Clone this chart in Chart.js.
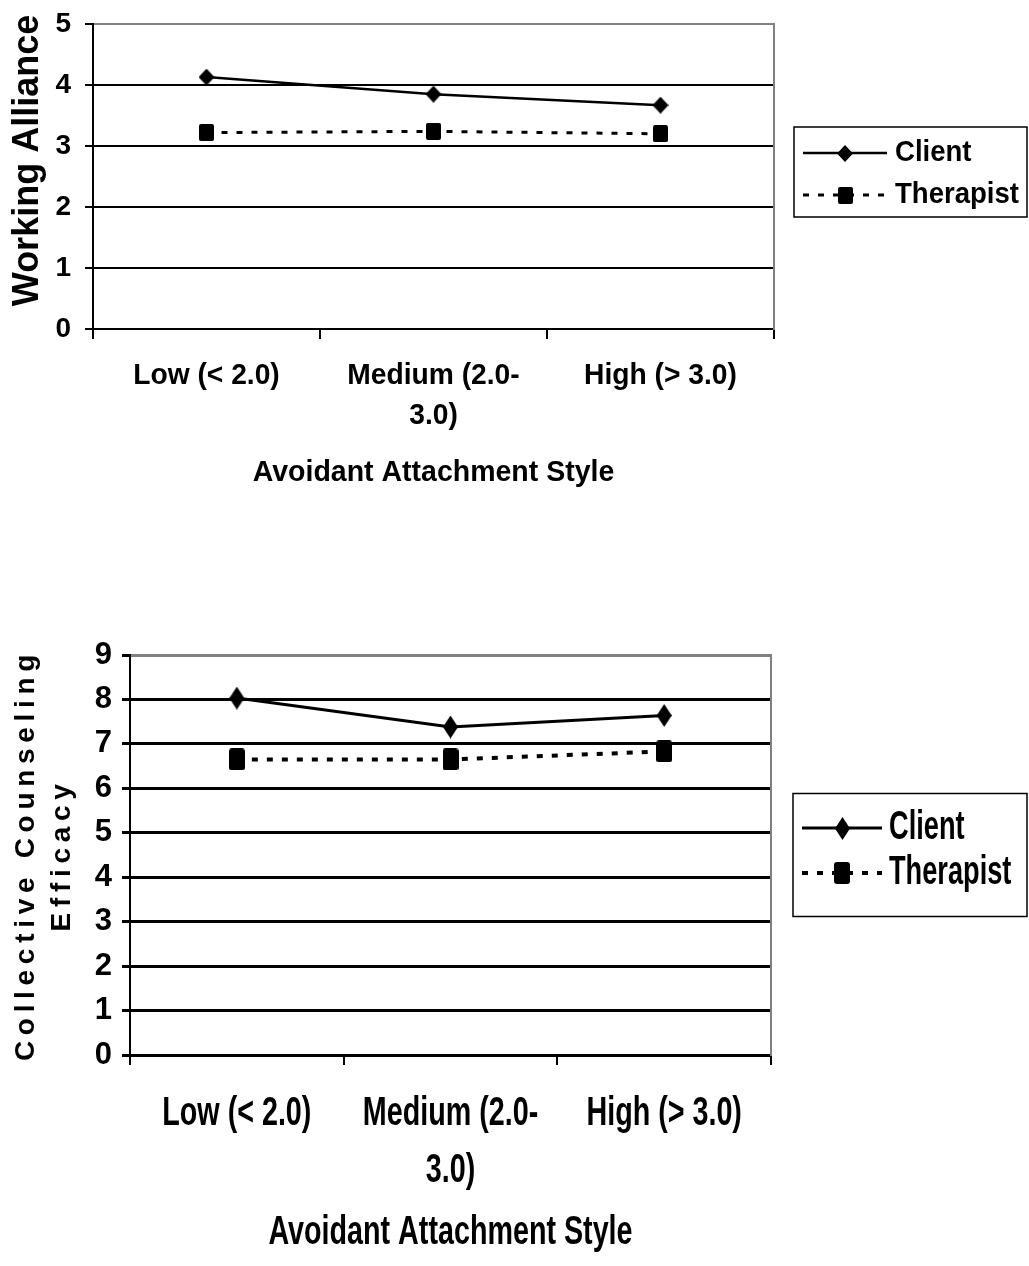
<!DOCTYPE html>
<html>
<head>
<meta charset="utf-8">
<script src="https://cdn.jsdelivr.net/npm/chart.js@4.4.1/dist/chart.umd.min.js"></script>
<style>
  html, body { margin: 0; padding: 0; background: #fff; }
  body { width: 1029px; height: 1266px; position: relative; overflow: hidden; }
  .wrap { position: absolute; left: 0; width: 1029px; }
  #wrapA { top: 0; height: 510px; }
  #wrapB { top: 600px; height: 666px; }
  canvas { display: block; }
</style>
</head>
<body>
<div class="wrap" id="wrapA"><canvas id="chartA"></canvas></div>
<div class="wrap" id="wrapB"><canvas id="chartB"></canvas></div>
<script>
// data
const categories = ['Low (< 2.0)', ['Medium (2.0-', '3.0)'], 'High (> 3.0)'];
const seriesNames = ['Client', 'Therapist'];
const allianceClient = [4.13, 3.85, 3.67];
const allianceTherapist = [3.22, 3.24, 3.20];
const efficacyClient = [8.03, 7.38, 7.64];
const efficacyTherapist = [6.65, 6.65, 6.83];
const allianceTicks = [0, 1, 2, 3, 4, 5];
const efficacyTicks = [0, 1, 2, 3, 4, 5, 6, 7, 8, 9];

const ARIAL = "'Liberation Sans', Arial, sans-serif";
const proto = CanvasRenderingContext2D.prototype;

function diamond(w, h) {
  const c = document.createElement('canvas');
  c.width = w; c.height = h;
  const g = c.getContext('2d');
  g.fillStyle = '#000';
  g.beginPath();
  g.moveTo(w / 2, 0); g.lineTo(w, h / 2); g.lineTo(w / 2, h); g.lineTo(0, h / 2);
  g.closePath();
  g.fill();
  return c;
}

function block(w, h, r) {
  const c = document.createElement('canvas');
  c.width = w; c.height = h;
  const g = c.getContext('2d');
  g.fillStyle = '#000';
  g.beginPath();
  g.roundRect(0, 0, w, h, r);
  g.fill();
  return c;
}

// fillText squeezed horizontally (no narrow font installed)
function squeezedText(ctx, text, x, y, sx) {
  ctx.save();
  ctx.translate(x, y);
  ctx.scale(sx, 1);
  proto.fillText.call(ctx, text, 0, 0);
  ctx.restore();
}

function wrapDraw(scale, name, sx, spacing, shiftY) {
  const orig = scale[name];
  scale[name] = function () {
    const c = this.ctx;
    c.save();
    if (spacing) c.letterSpacing = spacing;
    if (shiftY) c.translate(0, shiftY);
    if (sx && sx !== 1) {
      c.fillText = function (t, px, py) { squeezedText(this, t, px, py, sx); };
    }
    try { orig.apply(this, arguments); } finally { delete c.fillText; c.restore(); }
  };
}

const textTweak = {
  id: 'textTweak',
  beforeDraw(chart, args, opts) {
    const { x, y } = chart.scales;
    if (x._tweaked) return;
    wrapDraw(x, 'drawLabels', opts.xLabels, null, 0);
    wrapDraw(x, 'drawTitle', opts.xTitle, null, 0);
    wrapDraw(y, 'drawTitle', 1, opts.ySpacing, opts.yShift);
    x._tweaked = true;
  }
};

// legend drawn as a bordered box to the right of the plot
const boxLegend = {
  id: 'boxLegend',
  afterDraw(chart, args, opts) {
    const { ctx, chartArea } = chart;
    const n = chart.data.datasets.length;
    const h = opts.padTop + opts.padBottom + opts.rowHeight * n;
    const left = chartArea.right + opts.gap;
    const right = chart.width - 2;
    const top = (chartArea.top + chartArea.bottom) / 2 - h / 2 + opts.shift;
    ctx.save();
    ctx.strokeStyle = '#000';
    ctx.lineWidth = 1.5;
    ctx.strokeRect(left, top, right - left, h);
    chart.data.datasets.forEach((ds, i) => {
      const y = top + opts.padTop + opts.rowHeight * (i + 0.5);
      const x0 = left + 9, x1 = x0 + opts.sample;
      ctx.beginPath();
      ctx.setLineDash(ds.borderDash || []);
      ctx.lineWidth = ds.borderWidth;
      ctx.strokeStyle = ds.borderColor;
      ctx.moveTo(x0, y); ctx.lineTo(x1, y);
      ctx.stroke();
      ctx.setLineDash([]);
      const m = ds.pointStyle;
      ctx.drawImage(m, Math.round((x0 + x1) / 2 - m.width / 2), Math.round(y - m.height / 2));
      ctx.font = opts.font;
      ctx.fillStyle = '#000';
      ctx.textAlign = 'left';
      ctx.textBaseline = 'middle';
      squeezedText(ctx, ds.label, x1 + opts.textGap, y, opts.sx);
    });
    ctx.restore();
  }
};

function makeChart(id, cfg) {
  const max = cfg.ticks[cfg.ticks.length - 1];
  return new Chart(document.getElementById(id), {
    type: 'line',
    data: {
      labels: categories,
      datasets: [
        {
          label: seriesNames[0],
          data: cfg.client,
          borderColor: '#000',
          backgroundColor: '#000',
          borderWidth: cfg.clientWidth,
          tension: 0,
          pointStyle: cfg.clientMarker,
          pointRadius: 6
        },
        {
          label: seriesNames[1],
          data: cfg.therapist,
          borderColor: '#000',
          backgroundColor: '#000',
          borderWidth: cfg.therapistWidth,
          borderDash: [6, 9],
          tension: 0,
          pointStyle: cfg.therapistMarker,
          pointRadius: 6
        }
      ]
    },
    options: {
      responsive: true,
      maintainAspectRatio: false,
      animation: false,
      layout: { padding: { top: cfg.padTop, right: cfg.padRight, left: 0, bottom: 0 } },
      plugins: {
        legend: { display: false },
        tooltip: { enabled: false },
        boxLegend: cfg.legend,
        textTweak: { xLabels: cfg.xSx, xTitle: cfg.xTitleSx, ySpacing: cfg.titleSpacing, yShift: cfg.yTitleShift }
      },
      scales: {
        x: {
          offset: true,
          grid: { offset: true, drawOnChartArea: false, drawTicks: true, tickLength: 10, color: '#000', lineWidth: 2 },
          border: { color: '#000', width: 2 },
          ticks: {
            color: '#000', autoSkip: false, maxRotation: 0, minRotation: 0,
            padding: cfg.xPad,
            font: { family: ARIAL, size: cfg.xSize, weight: 'bold', lineHeight: cfg.xLine }
          },
          title: {
            display: true, text: 'Avoidant Attachment Style', color: '#000',
            font: { family: ARIAL, size: cfg.xTitleSize, weight: 'bold' },
            padding: { top: 0, bottom: cfg.xTitlePad }
          },
          afterFit(s) { s.height = cfg.xHeight; }
        },
        y: {
          min: cfg.ticks[0],
          max: max,
          afterBuildTicks(s) { s.ticks = cfg.ticks.map(v => ({ value: v })); },
          grid: {
            color: c => (c.tick && c.tick.value === max ? '#808080' : '#000'),
            tickColor: '#000',
            lineWidth: cfg.gridWidth,
            tickLength: 8
          },
          border: { color: '#000', width: 2 },
          ticks: {
            color: '#000', padding: cfg.yPad,
            font: { family: ARIAL, size: cfg.ySize, weight: 'bold', lineHeight: 0.5 }
          },
          title: {
            display: true, text: cfg.yTitle, color: '#000',
            font: { family: ARIAL, size: cfg.yTitleSize, weight: 'bold', lineHeight: cfg.yTitleLine },
            padding: { top: cfg.yTitlePad, bottom: 0 }
          },
          afterFit(s) { s.width = cfg.yWidth; }
        },
        y2: {
          position: 'right', min: 0, max: 1,
          grid: { drawOnChartArea: false, drawTicks: false },
          ticks: { display: false },
          border: { color: '#808080', width: 2 },
          afterFit(s) { s.width = 0; }
        }
      }
    },
    plugins: [boxLegend, textTweak]
  });
}

makeChart('chartA', {
  client: allianceClient,
  therapist: allianceTherapist,
  ticks: allianceTicks,
  clientMarker: diamond(16, 17),
  therapistMarker: block(15, 17, 2),
  clientWidth: 2.5,
  therapistWidth: 3,
  gridWidth: 2,
  padTop: 24, padRight: 255,
  xSize: 30, xSx: 0.94, xLine: 1.33, xPad: 17,
  xTitleSize: 30, xTitleSx: 0.95, xTitlePad: 19, xHeight: 181,
  ySize: 28, yPad: 14, yWidth: 93,
  yTitle: 'Working Alliance', yTitleSize: 36, yTitleLine: 1.2, yTitlePad: 6.5, yTitleShift: -16,
  titleSpacing: null,
  legend: { gap: 20, rowHeight: 42, padTop: 5, padBottom: 1, shift: -4.5, sample: 84, textGap: 8, sx: 0.95, font: 'bold 29px ' + ARIAL }
});

makeChart('chartB', {
  client: efficacyClient,
  therapist: efficacyTherapist,
  ticks: efficacyTicks,
  clientMarker: diamond(15, 23),
  therapistMarker: block(16, 22, 3),
  clientWidth: 3,
  therapistWidth: 4,
  gridWidth: 3,
  padTop: 55, padRight: 258,
  xSize: 41, xSx: 0.70, xLine: 1.39, xPad: 20,
  xTitleSize: 41, xTitleSx: 0.70, xTitlePad: 9, xHeight: 211,
  ySize: 31, yPad: 10, yWidth: 130,
  yTitle: ['Collective Counseling', 'Efficacy'], yTitleSize: 28, yTitleLine: 1.3, yTitlePad: 8, yTitleShift: 0,
  titleSpacing: '5.7px',
  legend: { gap: 22, rowHeight: 45, padTop: 12, padBottom: 21, shift: 0, sample: 80, textGap: 7, sx: 0.68, font: 'bold 40px ' + ARIAL }
});
</script>
</body>
</html>
